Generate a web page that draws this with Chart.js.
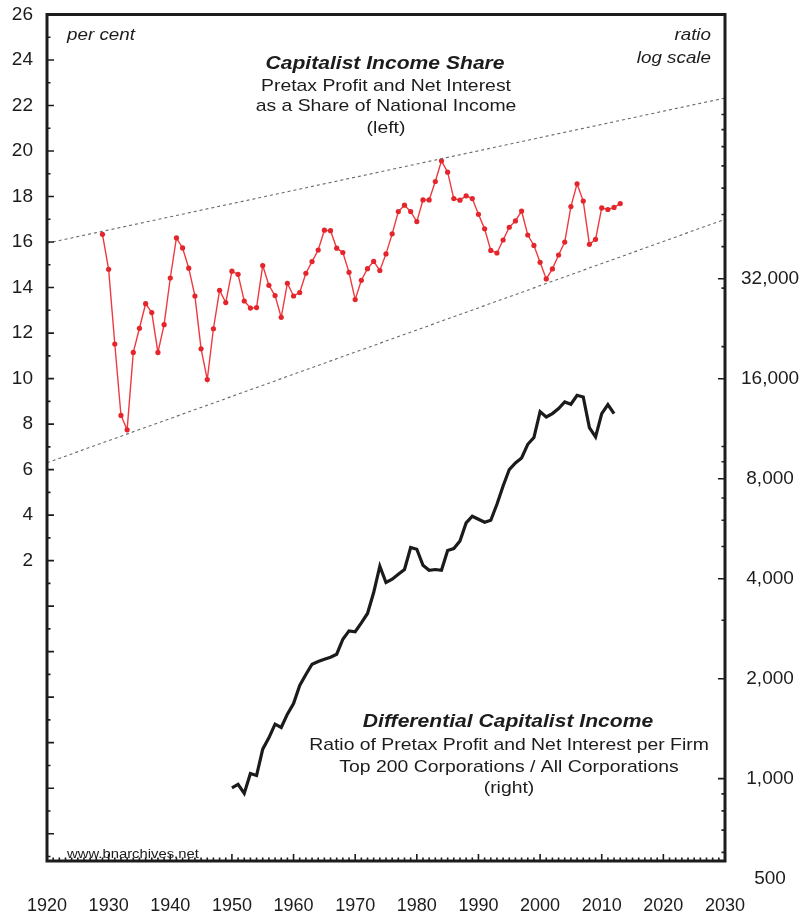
<!DOCTYPE html>
<html>
<head>
<meta charset="utf-8">
<script src="https://cdn.jsdelivr.net/npm/chart.js@4.4.1/dist/chart.umd.min.js"></script>
<style>
  html, body { margin: 0; padding: 0; background: #fff; }
  canvas { display: block; }
</style>
</head>
<body>
<canvas id="chart" width="804" height="916"></canvas>
<script>
// capitalist income share, per cent of national income (left axis)
const shareYears = [1929,1930,1931,1932,1933,1934,1935,1936,1937,1938,1939,1940,1941,1942,1943,1944,1945,1946,1947,1948,1949,
  1950,1951,1952,1953,1954,1955,1956,1957,1958,1959,1960,1961,1962,1963,1964,1965,1966,1967,1968,1969,
  1970,1971,1972,1973,1974,1975,1976,1977,1978,1979,1980,1981,1982,1983,1984,1985,1986,1987,1988,1989,
  1990,1991,1992,1993,1994,1995,1996,1997,1998,1999,2000,2001,2002,2003,2004,2005,2006,2007,2008,2009,
  2010,2011,2012,2013];
const shareValues = [16.34,14.8,11.52,8.38,7.75,11.15,12.21,13.29,12.9,11.15,12.37,14.42,16.18,15.74,14.85,13.63,11.31,9.96,12.19,13.88,13.34,
  14.72,14.58,13.41,13.1,13.12,14.97,14.1,13.65,12.69,14.19,13.63,13.78,14.63,15.14,15.65,16.52,16.5,15.73,15.54,14.67,
  13.47,14.32,14.83,15.15,14.75,15.48,16.36,17.34,17.62,17.34,16.9,17.85,17.85,18.66,19.57,19.07,17.91,17.84,18.03,17.91,
  17.22,16.58,15.63,15.52,16.09,16.65,16.93,17.36,16.31,15.85,15.11,14.38,14.82,15.43,16.0,17.56,18.56,17.8,15.9,16.12,
  17.5,17.43,17.52,17.69];

// differential capitalist income, ratio (right axis, log)
const dciYears = [1950,1951,1952,1953,1954,1955,1956,1957,1958,1959,1960,1961,1962,1963,1964,1965,1966,1967,1968,1969,
  1970,1971,1972,1973,1974,1975,1976,1977,1978,1979,1980,1981,1982,1983,1984,1985,1986,1987,1988,1989,
  1990,1991,1992,1993,1994,1995,1996,1997,1998,1999,2000,2001,2002,2003,2004,2005,2006,2007,2008,2009,
  2010,2011,2012];
const dciValues = [938,961,903,1036,1022,1227,1327,1459,1426,1564,1684,1908,2059,2211,2253,2289,2321,2370,2630,2786,
  2770,2944,3143,3635,4362,3896,3986,4127,4263,4966,4907,4392,4242,4263,4242,4864,4932,5199,5888,6169,
  6041,5918,6000,6704,7610,8527,8925,9241,10160,10645,12745,12280,12570,13013,13625,13410,14270,14106,11409,10690,
  12570,13380,12570];

// dotted channel around the share series
const channelYears = [1920, 2030];
const channelUpper = [15.95, 22.33];
const channelLower = [6.3, 17.0];

// tick labels
const leftTicks = [2,4,6,8,10,12,14,16,18,20,22,24,26];
const rightTicks = [500,1000,2000,4000,8000,16000,32000];
const rightMinor = [600,700,800,900,3000,5000,6000,7000,9000,10000,20000,30000,40000,50000,60000,70000,80000,90000,100000];

const FONT = '"Liberation Sans", Arial, Helvetica, sans-serif';
const INK = '#1c1c1c';
const STRETCH = 1.14; // the original lettering is set wide

const pairs = (xs, ys) => xs.map((x, i) => ({ x: x, y: ys[i] }));

function wideText(ctx, s, x, y, align, font) {
  ctx.save();
  ctx.translate(x, y);
  ctx.scale(STRETCH, 1);
  ctx.font = font;
  ctx.textAlign = align;
  ctx.fillText(s, 0, 0);
  ctx.restore();
}

const framePlugin = {
  id: 'frame',
  afterDraw(chart) {
    const { ctx, chartArea: a, scales } = chart;
    const sx = scales.x, sl = scales.y, sr = scales.y1;
    ctx.save();
    ctx.strokeStyle = INK;
    ctx.lineWidth = 1.6;
    ctx.beginPath();
    for (let yr = 1920; yr <= 2030; yr++) {
      const px = sx.getPixelForValue(yr);
      const len = yr % 10 === 0 ? 7 : 3.5;
      ctx.moveTo(px, a.bottom); ctx.lineTo(px, a.bottom - len);
    }
    for (let v = -11; v <= 26; v++) {
      const py = sl.getPixelForValue(v);
      const len = v % 2 === 0 ? 7 : 3.5;
      ctx.moveTo(a.left, py); ctx.lineTo(a.left + len, py);
    }
    rightTicks.forEach(v => {
      if (v < sr.min) return;
      const py = sr.getPixelForValue(v);
      ctx.moveTo(a.right, py); ctx.lineTo(a.right - 7, py);
    });
    rightMinor.forEach(v => {
      if (v < sr.min) return;
      const py = sr.getPixelForValue(v);
      ctx.moveTo(a.right, py); ctx.lineTo(a.right - 3.5, py);
    });
    ctx.stroke();
    ctx.lineWidth = 3;
    ctx.strokeRect(a.left, a.top, a.right - a.left, a.bottom - a.top);

    // notes
    ctx.fillStyle = INK;
    ctx.textBaseline = 'middle';
    const it = 'italic 16.5px ' + FONT;
    wideText(ctx, 'per cent', a.left + 20, 35, 'left', it);
    wideText(ctx, 'ratio', a.right - 14, 35, 'right', it);
    wideText(ctx, 'log scale', a.right - 14, 58, 'right', it);

    const bi = 'bold italic 18.5px ' + FONT;
    const rg = '17px ' + FONT;
    wideText(ctx, 'Capitalist Income Share', 385, 64, 'center', bi);
    wideText(ctx, 'Pretax Profit and Net Interest', 386, 86, 'center', rg);
    wideText(ctx, 'as a Share of National Income', 386, 106, 'center', rg);
    wideText(ctx, '(left)', 386, 128, 'center', rg);

    wideText(ctx, 'Differential Capitalist Income', 508, 722, 'center', bi);
    wideText(ctx, 'Ratio of Pretax Profit and Net Interest per Firm', 509, 745, 'center', rg);
    wideText(ctx, 'Top 200 Corporations / All Corporations', 509, 767, 'center', rg);
    wideText(ctx, '(right)', 509, 788, 'center', rg);

    wideText(ctx, 'www.bnarchives.net', a.left + 20, 854, 'left', '13px ' + FONT);
    ctx.restore();
  }
};

const noPadV = s => { s.paddingTop = 0; s.paddingBottom = 0; };

new Chart(document.getElementById('chart'), {
  type: 'line',
  data: {
    datasets: [
      {
        data: pairs(channelYears, channelUpper),
        yAxisID: 'y',
        borderColor: '#6a6a6a',
        borderWidth: 1.1,
        borderDash: [3, 3],
        pointRadius: 0,
      },
      {
        data: pairs(channelYears, channelLower),
        yAxisID: 'y',
        borderColor: '#6a6a6a',
        borderWidth: 1.1,
        borderDash: [3, 3],
        pointRadius: 0,
      },
      {
        data: pairs(shareYears, shareValues),
        yAxisID: 'y',
        borderColor: '#ee3a3e',
        borderWidth: 1.4,
        pointRadius: 2.6,
        pointBorderWidth: 0,
        pointBackgroundColor: '#e4262c',
      },
      {
        data: pairs(dciYears, dciValues),
        yAxisID: 'y1',
        borderColor: '#1b1b1b',
        borderWidth: 3.2,
        pointRadius: 0,
      },
    ],
  },
  options: {
    responsive: false,
    animation: false,
    devicePixelRatio: 1,
    layout: { padding: { top: 14.5, left: 0, right: 0, bottom: 0 } },
    plugins: { legend: { display: false }, tooltip: { enabled: false } },
    elements: { line: { tension: 0 } },
    scales: {
      x: {
        type: 'linear',
        min: 1920,
        max: 2030,
        grid: { display: false },
        border: { display: false },
        afterFit: s => { s.height = 55; s.paddingLeft = 0; s.paddingRight = 0; },
        afterBuildTicks: s => {
          const t = [];
          for (let v = 1920; v <= 2030; v += 10) t.push({ value: v });
          s.ticks = t;
        },
        ticks: {
          autoSkip: false,
          maxRotation: 0,
          padding: 26,
          color: INK,
          font: { family: FONT, size: 18 },
          callback: v => String(v),
        },
      },
      y: {
        type: 'linear',
        position: 'left',
        min: -11.2,
        max: 26,
        grid: { display: false },
        border: { display: false },
        afterFit: s => { s.width = 47; noPadV(s); },
        afterBuildTicks: s => { s.ticks = leftTicks.map(v => ({ value: v })); },
        ticks: {
          autoSkip: false,
          padding: 6,
          crossAlign: 'near',
          color: INK,
          font: { family: FONT, size: 19 },
          callback: v => String(v),
        },
      },
      y1: {
        type: 'logarithmic',
        position: 'right',
        min: 565,
        max: 200000,
        grid: { display: false },
        border: { display: false },
        afterFit: s => { s.width = 79; noPadV(s); },
        afterBuildTicks: s => { s.ticks = rightTicks.map(v => ({ value: v })); },
        ticks: {
          autoSkip: false,
          padding: 8,
          crossAlign: 'center',
          color: INK,
          font: { family: FONT, size: 19 },
          callback: v => Number(v).toLocaleString('en-US'),
        },
      },
    },
  },
  plugins: [framePlugin],
});
</script>
</body>
</html>
